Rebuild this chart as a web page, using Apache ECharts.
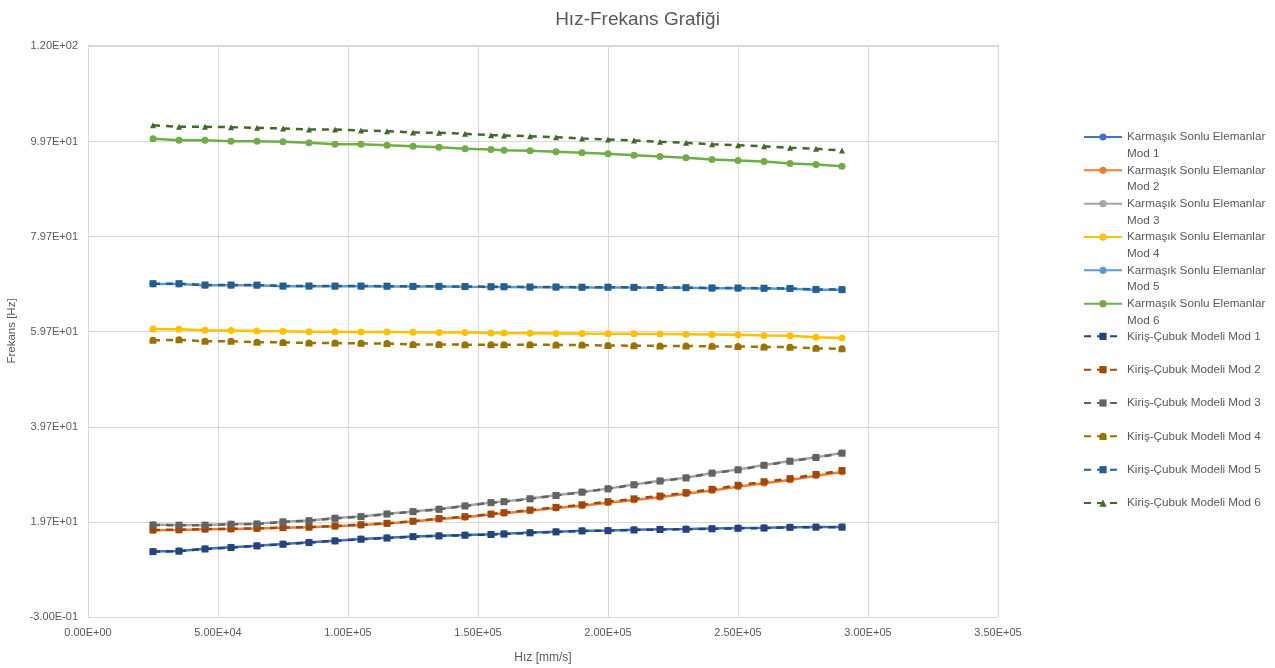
<!DOCTYPE html>
<html>
<head>
<meta charset="utf-8">
<script src="https://cdn.jsdelivr.net/npm/echarts@6/dist/echarts.min.js"></script>
<style>html,body{margin:0;padding:0;background:#fff}#c{width:1275px;height:668px}</style>
</head>
<body>
<div id="c"></div>
<script>
const speeds = [25000,35000,45000,55000,65000,75000,85000,95000,105000,115000,125000,135000,145000,155000,160000,170000,180000,190000,200000,210000,220000,230000,240000,250000,260000,270000,280000,290000];

const feMod1 = [13.5,13.6,14.05,14.35,14.7,15.05,15.4,15.75,16.1,16.35,16.65,16.8,16.95,17.1,17.2,17.45,17.65,17.85,17.9,18.05,18.15,18.2,18.3,18.4,18.45,18.6,18.65,18.65];
const feMod2 = [17.95,18.0,18.15,18.2,18.3,18.45,18.55,18.8,19.05,19.35,19.8,20.3,20.7,21.25,21.5,22.05,22.6,23.1,23.75,24.3,24.9,25.6,26.3,27.1,27.85,28.5,29.4,30.2];
const feMod3 = [19.1,19.05,19.05,19.25,19.3,19.75,20.0,20.5,20.85,21.4,21.9,22.4,23.1,23.8,24.0,24.6,25.3,26.0,26.7,27.55,28.35,29.0,30.0,30.7,31.65,32.5,33.3,34.2];
const feMod4 = [60.27,60.2,60.0,59.95,59.85,59.8,59.7,59.68,59.65,59.62,59.58,59.55,59.52,59.45,59.43,59.4,59.35,59.3,59.28,59.25,59.2,59.15,59.1,59.05,58.9,58.85,58.55,58.4];
const feMod5 = [69.75,69.75,69.47,69.47,69.45,69.26,69.26,69.25,69.25,69.23,69.19,69.19,69.15,69.12,69.12,69.05,69.05,69.02,69.02,68.98,68.95,68.92,68.85,68.85,68.8,68.75,68.55,68.5];
const feMod6 = [100.27,99.97,99.97,99.76,99.76,99.64,99.43,99.13,99.13,98.92,98.71,98.5,98.16,98.02,97.87,97.74,97.53,97.32,97.11,96.82,96.54,96.27,95.91,95.7,95.49,95.07,94.86,94.5];

const bmMod1 = [13.45,13.55,14.0,14.3,14.65,15.0,15.35,15.7,16.05,16.3,16.6,16.75,16.9,17.05,17.15,17.4,17.6,17.8,17.85,18.0,18.1,18.15,18.25,18.35,18.4,18.55,18.6,18.6];
const bmMod2 = [18.0,18.05,18.2,18.25,18.35,18.5,18.6,18.85,19.1,19.4,19.85,20.4,20.8,21.35,21.65,22.2,22.75,23.3,23.95,24.55,25.15,25.85,26.55,27.4,28.15,28.8,29.7,30.5];
const bmMod3 = [19.05,19.0,19.0,19.2,19.25,19.7,19.95,20.45,20.8,21.35,21.85,22.35,23.05,23.75,23.95,24.55,25.25,25.95,26.65,27.5,28.3,28.95,29.95,30.65,31.6,32.45,33.25,34.15];
const bmMod4 = [57.9,58.0,57.7,57.7,57.5,57.45,57.35,57.3,57.25,57.2,57.0,57.0,56.98,56.96,56.96,56.95,56.93,56.9,56.8,56.75,56.72,56.7,56.62,56.6,56.5,56.45,56.2,56.1];
const bmMod5 = [69.8,69.8,69.52,69.52,69.5,69.31,69.31,69.3,69.3,69.28,69.24,69.24,69.2,69.17,69.17,69.1,69.1,69.07,69.07,69.03,69.0,68.97,68.9,68.9,68.85,68.8,68.6,68.55];
const bmMod6 = [103.13,102.79,102.79,102.71,102.58,102.44,102.23,102.23,102.02,101.87,101.59,101.53,101.32,101.03,100.96,100.82,100.61,100.33,100.12,99.91,99.64,99.43,99.13,98.92,98.71,98.37,98.16,97.81];

const feNames = ['Karmaşık Sonlu Elemanlar Mod 1','Karmaşık Sonlu Elemanlar Mod 2','Karmaşık Sonlu Elemanlar Mod 3','Karmaşık Sonlu Elemanlar Mod 4','Karmaşık Sonlu Elemanlar Mod 5','Karmaşık Sonlu Elemanlar Mod 6'];
const bmNames = ['Kiriş-Çubuk Modeli Mod 1','Kiriş-Çubuk Modeli Mod 2','Kiriş-Çubuk Modeli Mod 3','Kiriş-Çubuk Modeli Mod 4','Kiriş-Çubuk Modeli Mod 5','Kiriş-Çubuk Modeli Mod 6'];
const feData = [feMod1, feMod2, feMod3, feMod4, feMod5, feMod6];
const bmData = [bmMod1, bmMod2, bmMod3, bmMod4, bmMod5, bmMod6];

const feColors = ['#4472C4','#ED7D31','#A5A5A5','#FFC000','#5B9BD5','#70AD47'];
const bmColors = ['#264478','#9E480E','#636363','#997300','#255E91','#43682B'];
const bmSymbols = ['rect','rect','rect','path://M0,10 L0,5 A5,5 0 0 1 10,5 L10,10 Z','rect','triangle'];
const bmSymbolSizes = [7,7,7,7,7,6];

function fmt(v) {
  const s = Number(v).toExponential(2);
  const parts = s.split('e');
  const sign = parts[1][0] === '-' ? '-' : '+';
  let e = parts[1].replace('+','').replace('-','');
  if (e.length < 2) e = '0' + e;
  return parts[0] + 'E' + sign + e;
}

const series = [];
feData.forEach((d, i) => {
  series.push({
    name: feNames[i], type: 'line',
    data: speeds.map((x, k) => [x, d[k]]),
    symbol: 'circle', symbolSize: 7,
    itemStyle: { color: feColors[i] },
    lineStyle: { color: feColors[i], width: 2.5 },
    z: 2
  });
});
bmData.forEach((d, i) => {
  series.push({
    name: bmNames[i], type: 'line',
    data: speeds.map((x, k) => [x, d[k]]),
    symbol: bmSymbols[i], symbolSize: bmSymbolSizes[i],
    itemStyle: { color: bmColors[i] },
    lineStyle: { color: bmColors[i], width: 2.5, type: [7, 6] },
    z: 3
  });
});

const txt = '#595959';
const gridColor = '#d9d9d9';
const chart = echarts.init(document.getElementById('c'), null, { renderer: 'canvas' });
chart.setOption({
  animation: false,
  backgroundColor: '#fff',
  textStyle: { fontFamily: 'Liberation Sans, Arial, sans-serif' },
  title: {
    text: 'Hız-Frekans Grafiği', left: 'center', top: 5,
    textStyle: { fontSize: 19, fontWeight: 'normal', color: txt }
  },
  grid: { left: 88, right: 277, top: 45, bottom: 51, containLabel: false, outerBoundsMode: 'none' },
  xAxis: {
    type: 'value', min: 0, max: 350000, interval: 50000,
    name: 'Hız [mm/s]', nameLocation: 'middle', nameGap: 35,
    nameTextStyle: { fontSize: 12, color: txt },
    axisLine: { show: true, onZero: false, lineStyle: { color: gridColor } },
    axisTick: { show: false },
    axisLabel: { formatter: fmt, fontSize: 11, color: txt, margin: 10 },
    splitLine: { show: true, lineStyle: { color: gridColor } }
  },
  yAxis: {
    type: 'value', min: -0.3, max: 120, interval: 20,
    name: 'Frekans [Hz]', nameLocation: 'middle', nameGap: 70, nameRotate: 90,
    nameTextStyle: { fontSize: 11.5, color: txt },
    axisLine: { show: true, onZero: false, lineStyle: { color: gridColor } },
    axisTick: { show: false },
    axisLabel: { formatter: fmt, fontSize: 11, color: txt, margin: 10 },
    splitLine: { show: true, lineStyle: { color: gridColor } }
  },
  legend: [
    {
      data: feNames, orient: 'vertical', left: 1083, top: 112, padding: 0,
      itemWidth: 38, itemHeight: 9, itemGap: -16.67,
      formatter: n => '\n' + n.replace(' Mod', '\nMod'),
      textStyle: { fontSize: 11.7, color: txt, lineHeight: 16.67 }
    },
    {
      data: bmNames, orient: 'vertical', left: 1083, top: 328, padding: 0,
      itemWidth: 38, itemHeight: 9, itemGap: 16.67,
      textStyle: { fontSize: 11.7, color: txt, lineHeight: 16.67 }
    }
  ],
  series: series
});
</script>
</body>
</html>
